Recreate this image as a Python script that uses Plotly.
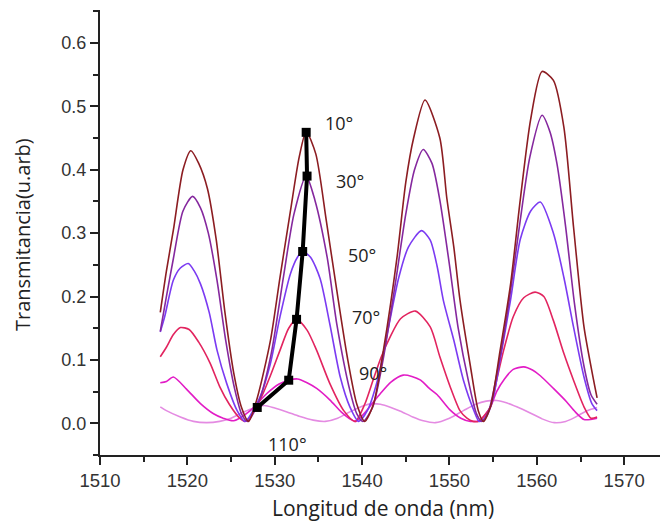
import plotly.graph_objects as go

# ---- data ----
x_10 = [1516.9,1517.6,1518.4,1519.5,1520.4,1521.3,1522.3,1523.3,1524.3,1525.3,1526.2,1527.0,
        1528.0,1529.5,1530.6,1531.8,1532.8,1533.6,1534.7,1535.9,1537.1,1538.3,1539.4,1540.3,
        1541.3,1542.5,1544.0,1545.0,1545.9,1547.2,1548.9,1549.7,1550.5,1551.2,1552.4,1553.3,1553.9,
        1554.7,1555.8,1557.0,1558.1,1559.3,1560.6,1561.9,1563.1,1564.2,1565.4,1566.5,1566.9]
y_10 = [0.175,0.24,0.305,0.40,0.43,0.41,0.37,0.29,0.175,0.08,0.025,0.003,
        0.04,0.13,0.23,0.335,0.42,0.46,0.425,0.32,0.21,0.105,0.03,0.003,
        0.03,0.12,0.262,0.38,0.45,0.51,0.45,0.355,0.278,0.195,0.09,0.02,0.003,
        0.026,0.115,0.22,0.352,0.48,0.555,0.541,0.467,0.31,0.152,0.068,0.04]

x_30 = [1516.9,1517.6,1518.4,1519.5,1520.6,1521.5,1522.4,1523.4,1524.4,1525.4,1526.2,1526.9,
        1528.2,1529.6,1531.0,1532.2,1533.6,1534.6,1536.0,1537.1,1538.6,1539.4,1540.1,
        1541.2,1542.4,1543.8,1545.0,1546.0,1547.0,1548.0,1548.9,1550.0,1551.0,1552.2,1553.1,1553.7,
        1554.5,1555.6,1556.8,1558.0,1559.2,1560.6,1561.5,1562.3,1563.3,1564.3,1565.4,1566.2,1566.9]
y_30 = [0.145,0.20,0.26,0.335,0.358,0.34,0.30,0.225,0.13,0.055,0.015,0.003,
        0.035,0.11,0.231,0.33,0.39,0.352,0.262,0.157,0.052,0.015,0.003,
        0.025,0.10,0.22,0.33,0.40,0.432,0.41,0.352,0.25,0.15,0.065,0.015,0.003,
        0.02,0.09,0.19,0.31,0.42,0.486,0.46,0.41,0.31,0.19,0.09,0.045,0.03]

x_50 = [1516.9,1517.4,1518.4,1519.2,1520.1,1520.8,1521.5,1522.5,1523.4,1524.5,1525.7,1526.6,
        1528.3,1529.5,1530.6,1531.8,1532.6,1533.2,1534.1,1535.2,1536.3,1537.5,1538.6,1539.6,
        1540.6,1541.8,1543.0,1544.2,1545.3,1546.8,1547.8,1548.6,1549.3,1550.5,1551.6,1552.8,1553.4,
        1554.2,1555.0,1555.8,1557.0,1558.1,1559.3,1560.4,1561.9,1563.1,1564.2,1565.4,1566.3,1566.9]
y_50 = [0.144,0.168,0.226,0.245,0.252,0.24,0.22,0.175,0.115,0.063,0.02,0.003,
        0.041,0.094,0.168,0.236,0.262,0.271,0.262,0.228,0.157,0.073,0.026,0.003,
        0.02,0.07,0.15,0.23,0.278,0.304,0.289,0.247,0.194,0.131,0.068,0.02,0.003,
        0.01,0.04,0.10,0.195,0.29,0.335,0.349,0.30,0.23,0.152,0.073,0.031,0.02]

x_70 = [1516.9,1517.6,1518.4,1519.2,1520.2,1521.3,1522.6,1523.7,1524.8,1526.0,1526.6,
        1527.2,1528.3,1529.5,1530.6,1531.6,1532.5,1533.7,1534.8,1536.3,1537.9,1539.2,
        1540.3,1541.3,1542.2,1543.2,1544.4,1546.1,1547.8,1548.9,1550.1,1551.2,1552.0,1552.7,
        1553.3,1554.7,1555.4,1556.2,1557.3,1558.5,1559.8,1560.8,1561.9,1563.1,1564.2,1565.4,1566.2,1566.9]
y_70 = [0.105,0.12,0.14,0.151,0.148,0.128,0.095,0.058,0.03,0.008,0.003,
        0.01,0.036,0.075,0.115,0.15,0.164,0.147,0.115,0.063,0.02,0.003,
        0.03,0.07,0.105,0.136,0.165,0.177,0.152,0.105,0.057,0.02,0.008,0.003,
        0.003,0.026,0.068,0.115,0.168,0.198,0.207,0.20,0.162,0.11,0.068,0.026,0.008,0.01]

x_90 = [1516.9,1517.6,1518.4,1519.9,1521.5,1523.0,1524.1,1525.3,
        1527.2,1529.1,1530.5,1531.6,1532.6,1533.7,1534.8,1536.3,1537.6,1538.5,1539.3,
        1540.2,1541.2,1542.1,1543.3,1544.7,1545.7,1546.7,1547.7,1548.6,1550.0,1551.3,1552.4,
        1553.5,1554.7,1555.4,1556.3,1557.3,1558.5,1559.5,1560.4,1561.9,1563.4,1564.4,1565.4,1566.9]
y_90 = [0.064,0.066,0.073,0.054,0.031,0.015,0.008,0.004,
        0.02,0.047,0.062,0.068,0.07,0.064,0.055,0.037,0.018,0.008,0.003,
        0.015,0.032,0.047,0.065,0.076,0.074,0.068,0.055,0.045,0.022,0.008,0.003,
        0.005,0.026,0.05,0.07,0.085,0.089,0.084,0.075,0.055,0.034,0.018,0.006,0.008]

x_110 = [1516.9,1517.6,1519.2,1520.7,1522.2,1523.7,1525.0,1526.0,1527.0,1528.0,1528.8,1530.0,
         1531.4,1532.8,1534.4,1535.8,1537.2,1538.6,1540.0,1541.2,1542.1,1543.3,1544.4,1545.8,
         1547.0,1548.4,1550.0,1551.6,1553.0,1554.2,1555.4,1556.6,1557.7,1559.3,1560.6,1562.0,
         1563.3,1564.3,1565.2,1566.2,1566.9]
y_110 = [0.026,0.02,0.01,0.003,0.001,0.003,0.008,0.015,0.021,0.025,0.028,0.024,
         0.018,0.011,0.005,0.003,0.008,0.018,0.027,0.031,0.03,0.025,0.019,0.01,
         0.004,0.001,0.008,0.02,0.03,0.035,0.036,0.032,0.026,0.016,0.007,0.001,
         0.003,0.009,0.016,0.022,0.025]

angles = ["10°", "30°", "50°", "70°", "90°", "110°"]
peak_x = [1533.6, 1533.7, 1533.2, 1532.5, 1531.6, 1528.0]
peak_y = [0.459, 0.390, 0.271, 0.164, 0.068, 0.025]
label_x = [1537.4, 1538.6, 1540.0, 1540.4, 1541.2, 1531.5]
label_y = [0.473, 0.383, 0.265, 0.167, 0.080, -0.032]

x_title = "Longitud de onda (nm)"
y_title = "Transmitancia(u.arb)"

series = [
    (x_10, y_10, "#8C1D22"),
    (x_30, y_30, "#85289E"),
    (x_50, y_50, "#7B3BF2"),
    (x_70, y_70, "#E2245F"),
    (x_90, y_90, "#E21CC6"),
    (x_110, y_110, "#E48BE2"),
]

fig = go.Figure()
for (xs, ys, col), name in reversed(list(zip(series, angles))):
    fig.add_trace(go.Scatter(x=xs, y=ys, mode="lines", name=name,
                             line=dict(color=col, width=1.6, shape="spline", smoothing=0.7),
                             showlegend=False, hoverinfo="skip"))

fig.add_trace(go.Scatter(x=peak_x, y=peak_y, mode="lines+markers",
                         line=dict(color="black", width=4),
                         marker=dict(symbol="square", size=9, color="black"),
                         showlegend=False))

annotations = []
for t, lx, ly in zip(angles, label_x, label_y):
    annotations.append(dict(x=lx, y=ly, text=t, showarrow=False, xref="x", yref="y",
                            xanchor="center", yanchor="middle",
                            font=dict(family="Open Sans", size=18, color="#222")))

# plot area: x 100..660 px (560 wide), y 10..455 px (445 tall)
annotations.append(dict(x=(383 - 100) / 560, y=-(508 - 455) / 445, xref="paper", yref="paper",
                        xanchor="center", yanchor="middle", text=x_title, showarrow=False,
                        font=dict(family="Open Sans", size=21, color="#222")))
annotations.append(dict(x=(22 - 100) / 560, y=(455 - 235) / 445, xref="paper", yref="paper",
                        xanchor="center", yanchor="middle", text=y_title, showarrow=False,
                        textangle=-90, font=dict(family="Open Sans", size=20, color="#222")))

axis_common = dict(showline=True, linecolor="#222", linewidth=2, ticks="outside",
                   ticklen=8, tickwidth=2, tickcolor="#222", showgrid=False, zeroline=False,
                   automargin=False)

fig.update_layout(
    width=660, height=521,
    margin=dict(l=100, r=0, t=10, b=66),
    paper_bgcolor="white", plot_bgcolor="white",
    annotations=annotations,
    xaxis=dict(range=[1510, 1574.1], tickvals=[1510,1520,1530,1540,1550,1560,1570],
               minor=dict(dtick=5, tick0=1510, ticks="outside", ticklen=5, tickwidth=2, tickcolor="#222"),
               tickfont=dict(family="Liberation Sans", size=18.5, color="#333"),
               **axis_common),
    yaxis=dict(range=[-0.05, 0.652], tickvals=[0.0,0.1,0.2,0.3,0.4,0.5,0.6],
               ticktext=["0.0","0.1","0.2","0.3","0.4","0.5","0.6"],
               minor=dict(dtick=0.05, tick0=0, ticks="outside", ticklen=5, tickwidth=2, tickcolor="#222"),
               tickfont=dict(family="Liberation Sans", size=18, color="#333"),
               **axis_common),
)

fig.write_html("out.html", config={"displayModeBar": False},
               post_script="document.body.style.margin='0';")
